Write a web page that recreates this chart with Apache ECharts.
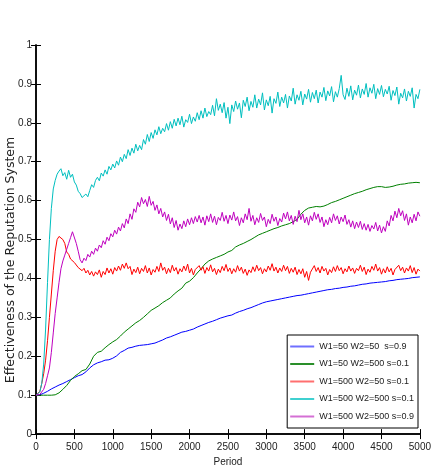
<!DOCTYPE html>
<html><head><meta charset="utf-8">
<script src="https://cdn.jsdelivr.net/npm/echarts@6/dist/echarts.min.js"></script>
<style>html,body{margin:0;padding:0;background:#fff;}#c{width:434px;height:472px;}</style>
</head><body><div id="c"></div>
<script>
// sampling steps of the two groups of series (periods)
const STEP_FINE = 25;
const STEP_COARSE = 50;

const seriesNames = ['W1=50 W2=50  s=0.9','W1=50 W2=500 s=0.1','W1=500 W2=50 s=0.1','W1=500 W2=500 s=0.1','W1=500 W2=500 s=0.9'];
const xTicks = [0,500,1000,1500,2000,2500,3000,3500,4000,4500,5000];
const yTicks = [0,0.1,0.2,0.3,0.4,0.5,0.6,0.7,0.8,0.9,1];

// blue, every 50 periods
const blueW50W50s09 = [
0.100,0.101,0.105,0.110,0.116,0.121,0.126,0.130,0.135,0.140,
0.145,0.150,0.153,0.160,0.170,0.178,0.183,0.186,0.190,0.191,
0.195,0.201,0.210,0.215,0.221,0.223,0.226,0.228,0.229,0.230,
0.232,0.234,0.238,0.242,0.247,0.250,0.254,0.258,0.262,0.264,
0.267,0.270,0.275,0.279,0.283,0.287,0.290,0.294,0.298,0.301,
0.304,0.306,0.311,0.315,0.318,0.322,0.325,0.329,0.333,0.337,
0.340,0.342,0.344,0.346,0.348,0.350,0.352,0.354,0.356,0.357,
0.359,0.361,0.363,0.365,0.367,0.369,0.371,0.372,0.374,0.375,
0.377,0.378,0.380,0.381,0.383,0.385,0.386,0.388,0.389,0.390,
0.391,0.392,0.394,0.395,0.397,0.398,0.399,0.400,0.402,0.403,
0.404];

// green, every 50 periods
const greenW50W500s01 = [
0.100,0.100,0.100,0.100,0.100,0.101,0.106,0.115,0.125,0.138,
0.148,0.155,0.163,0.166,0.180,0.200,0.210,0.213,0.222,0.230,
0.237,0.243,0.252,0.262,0.270,0.278,0.286,0.292,0.300,0.309,
0.318,0.324,0.330,0.338,0.344,0.350,0.360,0.368,0.375,0.388,
0.393,0.402,0.414,0.425,0.437,0.445,0.450,0.454,0.458,0.462,
0.468,0.472,0.481,0.486,0.490,0.495,0.500,0.506,0.512,0.516,
0.520,0.524,0.528,0.531,0.535,0.538,0.541,0.546,0.552,0.565,
0.575,0.581,0.583,0.585,0.584,0.586,0.590,0.595,0.598,0.602,
0.606,0.610,0.614,0.618,0.621,0.624,0.628,0.631,0.634,0.636,
0.636,0.634,0.635,0.637,0.640,0.642,0.643,0.645,0.646,0.647,
0.646];

// red, every 25 periods
const redW500W50s01 = [
0.100,0.102,0.110,0.130,0.155,0.190,0.240,0.300,0.360,0.420,
0.470,0.500,0.508,0.512,0.500,0.490,0.468,0.462,0.450,0.446,
0.441,0.436,0.428,0.432,0.420,0.426,0.414,0.421,0.409,0.418,
0.406,0.417,0.410,0.422,0.403,0.418,0.410,0.427,0.414,0.425,
0.411,0.428,0.419,0.432,0.421,0.437,0.426,0.440,0.425,0.431,
0.410,0.424,0.415,0.429,0.412,0.426,0.418,0.433,0.414,0.427,
0.409,0.423,0.416,0.431,0.418,0.440,0.421,0.429,0.412,0.426,
0.415,0.434,0.419,0.428,0.411,0.425,0.417,0.432,0.420,0.437,
0.414,0.426,0.409,0.423,0.418,0.433,0.421,0.430,0.413,0.428,
0.419,0.435,0.417,0.426,0.410,0.424,0.415,0.431,0.420,0.436,
0.418,0.427,0.412,0.425,0.416,0.433,0.419,0.429,0.413,0.424,
0.408,0.422,0.415,0.430,0.418,0.434,0.420,0.428,0.412,0.425,
0.417,0.432,0.421,0.438,0.419,0.429,0.414,0.427,0.418,0.434,
0.420,0.431,0.413,0.426,0.416,0.429,0.410,0.423,0.412,0.425,
0.403,0.418,0.395,0.416,0.420,0.433,0.418,0.428,0.414,0.431,
0.419,0.426,0.409,0.423,0.415,0.430,0.418,0.433,0.420,0.428,
0.412,0.425,0.417,0.432,0.419,0.427,0.413,0.426,0.420,0.434,
0.418,0.429,0.410,0.424,0.416,0.431,0.421,0.437,0.419,0.428,
0.411,0.425,0.414,0.430,0.417,0.426,0.409,0.423,0.418,0.434,
0.420,0.429,0.414,0.427,0.419,0.433,0.415,0.428,0.411,0.424,
0.419];

// cyan, every 25 periods
const cyanW500W500s01 = [
0.100,0.100,0.108,0.130,0.180,0.270,0.390,0.500,0.580,0.630,
0.652,0.668,0.676,0.682,0.664,0.672,0.655,0.678,0.660,0.668,
0.648,0.640,0.624,0.618,0.608,0.603,0.617,0.610,0.626,0.641,
0.634,0.652,0.660,0.651,0.671,0.663,0.679,0.668,0.688,0.679,
0.694,0.684,0.702,0.691,0.712,0.700,0.719,0.708,0.731,0.716,
0.735,0.722,0.745,0.728,0.742,0.731,0.757,0.745,0.770,0.752,
0.775,0.760,0.782,0.769,0.790,0.772,0.786,0.777,0.798,0.781,
0.803,0.786,0.809,0.792,0.812,0.795,0.817,0.789,0.808,0.801,
0.822,0.798,0.815,0.804,0.826,0.808,0.831,0.812,0.838,0.816,
0.829,0.821,0.845,0.818,0.862,0.832,0.848,0.826,0.852,0.812,
0.840,0.798,0.846,0.829,0.856,0.835,0.851,0.813,0.858,0.842,
0.866,0.831,0.855,0.840,0.872,0.838,0.861,0.846,0.877,0.833,
0.859,0.844,0.868,0.825,0.862,0.850,0.879,0.842,0.866,0.851,
0.873,0.838,0.869,0.856,0.889,0.848,0.872,0.858,0.881,0.846,
0.874,0.861,0.886,0.853,0.878,0.862,0.884,0.851,0.879,0.866,
0.891,0.857,0.882,0.869,0.893,0.854,0.880,0.866,0.888,0.922,
0.872,0.860,0.889,0.868,0.895,0.859,0.884,0.871,0.897,0.864,
0.887,0.873,0.901,0.866,0.890,0.876,0.899,0.862,0.888,0.873,
0.896,0.867,0.886,0.874,0.894,0.858,0.883,0.870,0.892,0.848,
0.876,0.864,0.887,0.856,0.881,0.868,0.890,0.838,0.873,0.862,
0.886];

// magenta, every 25 periods
const magentaW500W500s09 = [
0.100,0.100,0.102,0.106,0.115,0.130,0.150,0.170,0.210,0.260,
0.310,0.350,0.390,0.425,0.445,0.460,0.475,0.490,0.505,0.520,
0.515,0.490,0.470,0.448,0.440,0.452,0.446,0.462,0.455,0.470,
0.462,0.478,0.470,0.486,0.479,0.497,0.488,0.506,0.497,0.515,
0.507,0.524,0.514,0.532,0.522,0.541,0.530,0.553,0.541,0.566,
0.552,0.579,0.570,0.596,0.584,0.608,0.592,0.603,0.585,0.611,
0.588,0.598,0.575,0.589,0.566,0.580,0.558,0.571,0.549,0.565,
0.540,0.556,0.531,0.549,0.524,0.540,0.528,0.548,0.533,0.553,
0.538,0.556,0.541,0.559,0.545,0.562,0.543,0.558,0.537,0.561,
0.546,0.566,0.544,0.560,0.538,0.557,0.549,0.570,0.547,0.562,
0.541,0.563,0.550,0.571,0.548,0.559,0.536,0.556,0.543,0.566,
0.551,0.580,0.547,0.562,0.538,0.556,0.544,0.567,0.549,0.558,
0.533,0.552,0.541,0.565,0.547,0.558,0.536,0.554,0.545,0.568,
0.553,0.571,0.548,0.562,0.539,0.560,0.546,0.575,0.551,0.566,
0.543,0.558,0.537,0.561,0.548,0.570,0.552,0.566,0.544,0.558,
0.533,0.551,0.538,0.557,0.543,0.566,0.549,0.561,0.540,0.558,
0.546,0.563,0.539,0.551,0.532,0.548,0.528,0.545,0.531,0.547,
0.526,0.541,0.524,0.539,0.521,0.536,0.527,0.544,0.522,0.537,
0.517,0.533,0.521,0.548,0.535,0.562,0.548,0.573,0.556,0.580,
0.561,0.574,0.549,0.566,0.537,0.558,0.543,0.565,0.548,0.571,
0.560];

const colors = ['#0000ff','#008000','#ff0000','#00bfbf','#bf00bf'];
const legendColors = ['#6f6fff','#2a8f2a','#ff6f6f','#3fd0d0','#d46fd4'];
const values = [blueW50W50s09, greenW50W500s01, redW500W50s01, cyanW500W500s01, magentaW500W500s09];
const steps = [STEP_COARSE, STEP_COARSE, STEP_FINE, STEP_FINE, STEP_FINE];

const FONT = "'Liberation Sans Narrow','Arial Narrow','Liberation Sans',Arial,sans-serif";
const chart = echarts.init(document.getElementById('c'), null, {renderer:'canvas'});

const axisCommon = {
  axisLine:{show:true, lineStyle:{color:'#000', width:1.5}},
  axisTick:{show:true, inside:true, length:5, lineStyle:{color:'#000', width:1}},
  splitLine:{show:false}
};

chart.setOption({
  animation:false,
  backgroundColor:'#fff',
  grid:{left:36, right:9, top:45, bottom:34},
  xAxis:[
    Object.assign({type:'value', min:0, max:5000, interval:500, position:'bottom',
      axisLabel:{color:'#222', fontSize:10, fontFamily:FONT, margin:8,
        formatter:v=> xTicks.includes(v) ? String(v) : ''},
      name:'Period', nameLocation:'middle', nameGap:22,
      nameTextStyle:{color:'#222', fontSize:10, fontFamily:FONT}}, axisCommon),
    Object.assign({type:'value', min:0, max:5000, interval:500, position:'top',
      axisLabel:{show:false}}, axisCommon)
  ],
  yAxis:[
    Object.assign({type:'value', min:0, max:1, interval:0.1, position:'left',
      axisLabel:{color:'#222', fontSize:10, fontFamily:FONT, margin:4,
        formatter:v=>{ const t = yTicks.find(k=>Math.abs(k-v)<1e-9); return t===undefined?'':String(t); }}}, axisCommon),
    Object.assign({type:'value', min:0, max:1, interval:0.1, position:'right',
      axisLabel:{show:false}}, axisCommon)
  ],
  legend:{
    orient:'vertical', right:16, top:335,
    padding:[7,4,7,3], itemGap:8.5, itemWidth:24, itemHeight:2,
    borderColor:'#000', borderWidth:1, backgroundColor:'#fff',
    textStyle:{color:'#222', fontSize:9, fontFamily:FONT},
    data: seriesNames.map((n,i)=>({name:n, icon:'rect', itemStyle:{color:legendColors[i]}}))
  },
  graphic:[{
    type:'text', x:11, y:260, rotation:Math.PI/2,
    style:{text:'Effectiveness of the Reputation System', fill:'#222',
      font:"12.5px 'DejaVu Sans', sans-serif", textAlign:'center', textVerticalAlign:'middle'}
  }],
  series: values.map((arr,i)=>({
    name: seriesNames[i], type:'line', xAxisIndex:0, yAxisIndex:0,
    symbol:'none', showSymbol:false,
    lineStyle:{color:colors[i], width:1}, itemStyle:{color:colors[i]},
    data: arr.map((v,k)=>[k*steps[i], v])
  }))
});
</script></body></html>
